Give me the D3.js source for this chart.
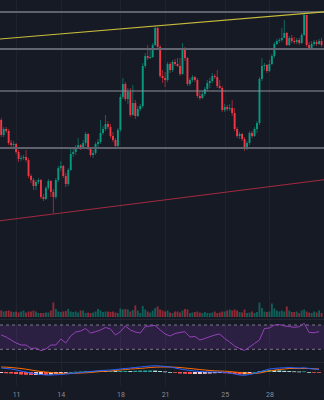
<!DOCTYPE html>
<html>
<head>
<meta charset="utf-8">
<script src="https://cdn.jsdelivr.net/npm/d3@7"></script>
<style>
  html, body { margin: 0; padding: 0; background: #161a25; }
  svg { display: block; }
</style>
</head>
<body>
<svg id="chart" width="324" height="400"></svg>
<script>
// ---- data: 4h candles from 10 Mar 2024 ----
const barStart = Date.UTC(2024, 2, 10, 0);
const barHours = 4;
const firstOpen = 38.0;

const closes = [
  36.5, 37.1, 36.9, 35.7, 35.5, 35.6, 34.8, 34.1, 34.2, 34.3,
  34.0, 32.4, 32.0, 31.4, 31.8, 32.0, 30.3, 30.1, 31.2, 31.9,
  30.8, 30.3, 32.0, 33.2, 33.4, 32.4, 31.6, 33.0, 34.6, 34.8,
  35.3, 35.5, 35.2, 35.7, 36.6, 35.2, 34.5, 34.7, 35.6, 35.8,
  36.7, 37.1, 37.6, 37.3, 36.4, 36.0, 35.4, 37.0, 40.3, 41.6,
  40.1, 40.8, 38.5, 39.7, 38.4, 39.1, 39.4, 43.4, 44.4, 44.2,
  44.3, 45.5, 47.2, 45.3, 42.4, 42.2, 42.0, 43.6, 43.0, 43.8,
  43.6, 43.4, 42.6, 45.1, 44.2, 41.6, 42.0, 42.3, 42.0, 40.4,
  40.2, 40.6, 41.1, 41.7, 41.9, 42.4, 42.3, 41.4, 41.2, 39.0,
  39.3, 39.1, 39.2, 38.7, 37.1, 36.4, 36.6, 36.1, 35.1, 35.7,
  36.7, 36.4, 37.1, 37.7, 42.1, 43.4, 43.5, 42.9, 43.6, 44.4,
  45.6, 45.9, 46.0, 46.2, 46.7, 45.5, 46.2, 45.9, 45.8, 46.0,
  45.7, 46.5, 48.5, 45.5, 45.2, 45.6, 45.8, 45.6, 45.9, 45.5
];
const highs = [
  38.2, 37.3, 37.3, 37.1, 36.0, 35.9, 35.7, 35.0, 34.5, 34.5,
  35.0, 34.2, 32.6, 32.2, 32.0, 32.2, 32.1, 30.6, 31.4, 32.1,
  32.0, 31.1, 32.2, 33.4, 33.9, 33.5, 32.7, 33.2, 35.2, 35.2,
  35.5, 36.2, 35.6, 36.0, 36.8, 36.7, 35.3, 35.0, 35.8, 36.1,
  38.0, 37.4, 38.5, 37.9, 37.6, 36.8, 36.2, 37.2, 40.6, 42.2,
  41.8, 41.2, 41.2, 41.5, 40.0, 39.4, 39.6, 43.7, 44.7, 45.5,
  45.0, 45.7, 47.4, 47.3, 45.5, 43.0, 42.8, 43.8, 43.8, 44.0,
  44.1, 44.2, 44.2, 45.7, 45.3, 44.3, 42.2, 42.5, 42.4, 42.2,
  40.8, 40.9, 41.3, 42.0, 42.2, 42.7, 42.6, 43.0, 42.0, 41.4,
  39.6, 39.5, 39.6, 40.0, 39.2, 37.3, 36.8, 36.7, 36.3, 35.9,
  36.9, 36.9, 37.3, 37.9, 42.3, 44.2, 43.7, 43.6, 44.0, 44.6,
  45.8, 46.1, 46.2, 47.2, 48.0, 46.8, 46.4, 46.5, 46.3, 46.2,
  46.2, 46.7, 48.7, 48.5, 45.8, 45.9, 46.0, 46.0, 46.1, 46.2
];
const lows = [
  36.3, 36.3, 36.7, 35.5, 35.2, 35.3, 34.6, 33.8, 33.9, 34.0,
  33.8, 32.2, 31.7, 31.0, 31.0, 31.6, 30.1, 29.9, 30.0, 31.0,
  30.3, 28.7, 30.1, 31.8, 32.9, 32.2, 31.3, 31.4, 32.9, 34.3,
  34.5, 35.1, 35.0, 35.1, 35.4, 35.0, 34.3, 34.2, 34.5, 35.3,
  35.6, 36.5, 36.9, 37.1, 36.2, 35.8, 35.2, 35.1, 36.8, 40.1,
  39.9, 39.6, 38.3, 38.4, 38.1, 38.3, 38.9, 39.2, 43.2, 44.0,
  44.1, 44.2, 45.4, 45.1, 42.2, 41.7, 41.3, 41.8, 42.7, 42.8,
  43.4, 43.3, 42.4, 42.5, 43.9, 41.4, 41.4, 41.8, 41.8, 40.2,
  40.0, 40.1, 40.4, 40.9, 41.2, 41.7, 42.1, 41.2, 41.1, 38.8,
  38.8, 38.9, 38.9, 38.4, 36.9, 36.2, 36.1, 35.9, 34.9, 35.0,
  35.5, 36.2, 36.3, 36.7, 37.5, 41.9, 43.0, 42.7, 42.8, 43.5,
  44.2, 45.5, 45.7, 45.8, 46.2, 45.4, 45.4, 45.7, 45.6, 45.6,
  45.5, 45.6, 46.4, 45.3, 45.0, 45.1, 45.4, 45.4, 45.5, 45.3
];
const volumes = [
  13, 11, 12, 13, 11, 10, 11, 9, 11, 13,
  9, 11, 11, 13, 11, 8, 8, 8, 9, 9,
  13, 29, 16, 11, 10, 11, 12, 16, 11, 10,
  11, 9, 13, 13, 8, 9, 8, 9, 11, 16,
  13, 10, 11, 11, 10, 11, 9, 8, 17, 15,
  16, 15, 11, 14, 23, 13, 8, 22, 15, 11,
  9, 13, 18, 21, 15, 13, 11, 13, 9, 8,
  11, 11, 9, 13, 16, 15, 8, 9, 10, 11,
  9, 8, 10, 8, 8, 9, 11, 8, 9, 11,
  11, 13, 15, 13, 15, 13, 10, 9, 15, 8,
  9, 11, 8, 10, 29, 18, 11, 10, 11, 27,
  17, 13, 11, 13, 11, 21, 13, 10, 10, 11,
  8, 13, 15, 11, 9, 8, 11, 9, 13, 8
];

// indicator readings, one per two bars (8h)
const rsiValues = [
  53.5, 50.2, 45.3, 40.4, 37.1, 37.1, 31.3, 32.1, 27.7, 30.5,
  37.1, 37.1, 47.0, 40.4, 51.9, 58.5, 60.1, 64.2, 56.8, 59.0,
  61.8, 65.9, 63.4, 53.5, 59.0, 68.4, 61.8, 58.5, 56.8, 67.5,
  68.4, 69.2, 61.8, 55.2, 51.9, 56.0, 57.7, 59.0, 50.2, 51.1,
  45.3, 47.8, 50.7, 53.5, 55.2, 47.8, 42.0, 35.4, 31.3, 28.0,
  33.8, 39.6, 45.3, 64.2, 65.1, 70.0, 70.8, 68.4, 67.5, 66.2,
  67.2, 72.8, 57.7, 57.3, 59.0
];
const macdValues = [
  1.0, 0.88, 0.75, 0.5, 0.25, 0, -0.25, -0.45, -0.62, -0.75,
  -0.75, -0.7, -0.62, -0.5, -0.38, -0.25, -0.12, 0, 0.12, 0.25,
  0.38, 0.42, 0.5, 0.62, 0.75, 0.88, 1.0, 1.12, 1.25, 1.38,
  1.5, 1.55, 1.5, 1.38, 1.25, 1.0, 0.75, 0.55, 0.38, 0.25,
  0.12, 0.05, 0, 0, 0, -0.12, -0.25, -0.5, -0.75, -0.82,
  -0.62, -0.38, 0, 0.38, 0.75, 0.88, 1.0, 1.05, 1.12, 1.05,
  1.0, 1.05, 0.88, 0.75, 0.62
];
const signalValues = [
  1.25, 1.2, 1.12, 1.0, 0.88, 0.7, 0.5, 0.3, 0.12, 0,
  -0.12, -0.25, -0.38, -0.4, -0.38, -0.32, -0.25, -0.2, -0.12, 0,
  0.12, 0.2, 0.25, 0.38, 0.5, 0.62, 0.75, 0.82, 0.88, 1.0,
  1.12, 1.2, 1.25, 1.25, 1.25, 1.2, 1.12, 1.0, 0.88, 0.75,
  0.62, 0.5, 0.38, 0.3, 0.25, 0.2, 0.12, 0, -0.12, -0.25,
  -0.38, -0.38, -0.25, 0, 0.25, 0.45, 0.62, 0.75, 0.88, 0.88,
  0.88, 0.88, 0.88, 0.8, 0.75
];
const histValues = [
  -0.25, -0.32, -0.37, -0.5, -0.63, -0.7, -0.75, -0.75, -0.74, -0.75,
  -0.63, -0.45, -0.24, -0.1, 0, 0.07, 0.13, 0.2, 0.24, 0.25,
  0.26, 0.22, 0.25, 0.24, 0.25, 0.26, 0.25, 0.3, 0.37, 0.38,
  0.38, 0.35, 0.25, 0.13, 0, -0.2, -0.37, -0.45, -0.5, -0.5,
  -0.5, -0.45, -0.38, -0.3, -0.25, -0.32, -0.37, -0.5, -0.63, -0.57,
  -0.24, 0, 0.25, 0.38, 0.5, 0.43, 0.38, 0.3, 0.24, 0.17,
  0.12, 0.17, 0, -0.05, -0.13
];

// drawn levels and trendlines (bar index, price)
const levels = [48.8, 45.1, 40.9, 35.2];
const upperTrend = [[62, 47.4], [122, 48.65]];
const lowerTrend = [[21, 28.6], [129, 32.0]];

// time axis
const tickDates = [
  Date.UTC(2024, 2, 11), Date.UTC(2024, 2, 14), Date.UTC(2024, 2, 18),
  Date.UTC(2024, 2, 21), Date.UTC(2024, 2, 25), Date.UTC(2024, 2, 28),
  Date.UTC(2024, 3, 1)
];
const tickLabels = ["11", "14", "18", "21", "25", "28", "Apr"];

// ---- layout ----
const W = 324, H = 400;
const UP = "#089981", DOWN = "#f23645";
const barTime = i => new Date(barStart + i * barHours * 3600e3);

const x = d3.scaleUtc()
  .domain([new Date(Date.UTC(2024, 2, 9, 22, 4)), new Date(Date.UTC(2024, 2, 31, 15, 57))])
  .range([0, W]);
const y = d3.scaleLinear().domain([22.6, 50]).range([274, 0]);
const yVol = d3.scaleLinear().domain([0, 100]).range([317, 267]);
const yRsi = d3.scaleLinear().domain([30, 70]).range([349.3, 325]);
const yMacd = d3.scaleLinear().domain([-2.5, 2.5]).range([382, 362]);

const bars = closes.map((c, i) => ({
  t: barTime(i),
  o: i === 0 ? firstOpen : closes[i - 1],
  h: highs[i], l: lows[i], c, v: volumes[i]
}));
const step = x(barTime(1)) - x(barTime(0));
const bodyW = step * 0.76;

const svg = d3.select("#chart");
svg.append("rect").attr("width", W).attr("height", H).attr("fill", "#161a25");

// grid
const grid = svg.append("g").attr("stroke", "#1f2330").attr("stroke-width", 1);
grid.selectAll("line.v").data(tickDates).join("line")
  .attr("x1", d => Math.round(x(d)) + 0.5).attr("x2", d => Math.round(x(d)) + 0.5)
  .attr("y1", 0).attr("y2", 386);

// pane separators
svg.append("g").attr("stroke", "#232734").selectAll("line")
  .data([319.5, 362.5]).join("line")
  .attr("x1", 0).attr("x2", W).attr("y1", d => d).attr("y2", d => d);

// volume
svg.append("g").selectAll("rect").data(bars).join("rect")
  .attr("x", d => x(d.t) - bodyW / 2)
  .attr("width", bodyW)
  .attr("y", d => yVol(d.v))
  .attr("height", d => yVol(0) - yVol(d.v))
  .attr("fill", d => d.c >= d.o ? UP : DOWN)
  .attr("opacity", 0.55);

// candles
const candles = svg.append("g");
candles.selectAll("line").data(bars).join("line")
  .attr("x1", d => x(d.t)).attr("x2", d => x(d.t))
  .attr("y1", d => y(d.h)).attr("y2", d => y(d.l))
  .attr("stroke", d => d.c >= d.o ? UP : DOWN)
  .attr("stroke-width", 0.8)
  .attr("opacity", 0.75);
candles.selectAll("rect").data(bars).join("rect")
  .attr("x", d => x(d.t) - bodyW / 2)
  .attr("width", bodyW)
  .attr("y", d => y(Math.max(d.o, d.c)))
  .attr("height", d => Math.max(1, Math.abs(y(d.o) - y(d.c))))
  .attr("fill", d => d.c >= d.o ? UP : DOWN);

// horizontal levels
const levelColor = ["#5f626d", "#62656f", "#8c8f99", "#5f626d"];
const levelWidth = [2, 2, 1.2, 2];
svg.append("g").selectAll("line").data(levels).join("line")
  .attr("x1", 0).attr("x2", W)
  .attr("y1", d => y(d)).attr("y2", d => y(d))
  .attr("stroke", (d, i) => levelColor[i])
  .attr("stroke-width", (d, i) => levelWidth[i]);

// trendlines extended across the chart
function extendLine(pts) {
  const [[i0, p0], [i1, p1]] = pts;
  const x0 = x(barTime(i0)), x1 = x(barTime(i1));
  const y0 = y(p0), y1 = y(p1);
  const k = (y1 - y0) / (x1 - x0);
  return [[0, y0 - k * x0], [W, y0 + k * (W - x0)]];
}
const upper = extendLine(upperTrend), lower = extendLine(lowerTrend);
svg.append("line")
  .attr("x1", upper[0][0]).attr("y1", upper[0][1])
  .attr("x2", upper[1][0]).attr("y2", upper[1][1])
  .attr("stroke", "#c8bb3c").attr("stroke-width", 1.1);
svg.append("line")
  .attr("x1", lower[0][0]).attr("y1", lower[0][1])
  .attr("x2", lower[1][0]).attr("y2", lower[1][1])
  .attr("stroke", "#a32a40").attr("stroke-width", 1.1);

// RSI pane
const rsiPts = rsiValues.map((v, k) => ({ t: barTime(k * 2), v }));
svg.append("rect")
  .attr("x", 0).attr("width", W)
  .attr("y", yRsi(70)).attr("height", yRsi(30) - yRsi(70))
  .attr("fill", "rgba(128,62,178,0.2)");
svg.append("g").selectAll("line").data([70, 30]).join("line")
  .attr("x1", 0).attr("x2", W)
  .attr("y1", d => yRsi(d)).attr("y2", d => yRsi(d))
  .attr("stroke", "#7c7489").attr("stroke-width", 1)
  .attr("stroke-dasharray", "3,3");
svg.append("path").datum(rsiPts)
  .attr("fill", "none").attr("stroke", "#9442b8").attr("stroke-width", 1)
  .attr("d", d3.line().x(d => x(d.t)).y(d => yRsi(d.v)));

// MACD pane
const histW = step * 2 * 0.8;
svg.append("g").selectAll("rect").data(histValues).join("rect")
  .attr("x", (v, k) => x(barTime(k * 2)) - histW / 2)
  .attr("width", histW)
  .attr("y", v => Math.min(yMacd(v), yMacd(0)))
  .attr("height", v => Math.max(0.8, Math.abs(yMacd(v) - yMacd(0))))
  .attr("fill", (v, k) => {
    const prev = k > 0 ? histValues[k - 1] : v;
    if (v >= 0) return v >= prev ? "#26a69a" : "#b2dfdb";
    return v >= prev ? "#ffcdd2" : "#ff5252";
  });
const macdLine = d3.line().x((v, k) => x(barTime(k * 2))).y(v => yMacd(v));
svg.append("path").datum(signalValues)
  .attr("fill", "none").attr("stroke", "#ff6d00").attr("stroke-width", 1)
  .attr("d", macdLine);
svg.append("path").datum(macdValues)
  .attr("fill", "none").attr("stroke", "#2962ff").attr("stroke-width", 1)
  .attr("d", macdLine);

// time axis
const axis = svg.append("g")
  .attr("transform", "translate(0,389)")
  .call(d3.axisBottom(x)
    .tickValues(tickDates.map(d => new Date(d)))
    .tickFormat((d, i) => tickLabels[i])
    .tickSize(0).tickPadding(3));
axis.select(".domain").remove();
axis.selectAll("text")
  .attr("fill", "#8a8d97")
  .attr("font-size", 7)
  .attr("font-family", "Roboto, 'Liberation Sans', sans-serif");
</script>
</body>
</html>
